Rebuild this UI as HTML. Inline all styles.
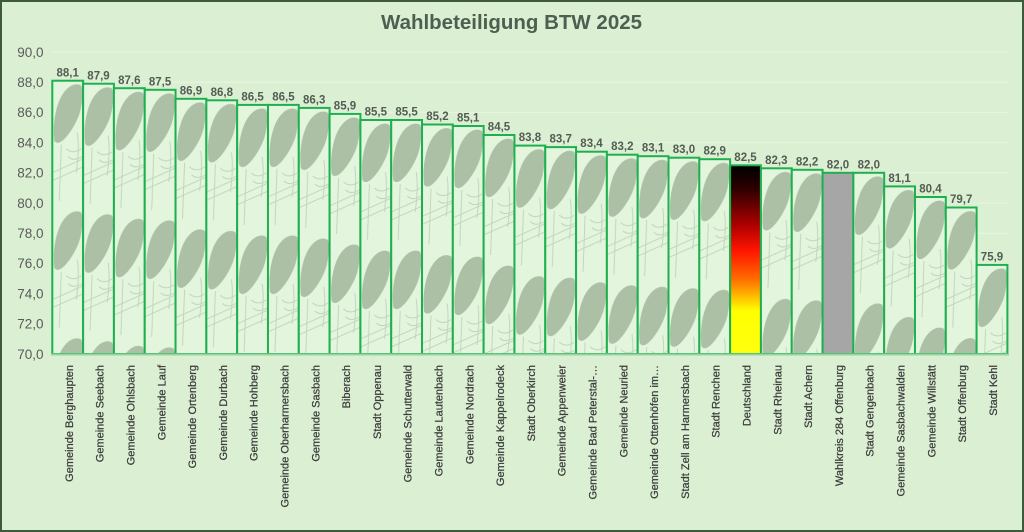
<!DOCTYPE html>
<html><head><meta charset="utf-8"><style>
html,body{margin:0;padding:0;background:#dbf0d3;}
svg{display:block;}
</style></head><body>
<svg xmlns="http://www.w3.org/2000/svg" xmlns:xlink="http://www.w3.org/1999/xlink" width="1024" height="532" viewBox="0 0 1024 532">
<defs>
<g id="tile">
<rect x="0" y="0" width="31" height="127" fill="#e3f5dd"/>
<path d="M2,60 C0,42 4,20 13,10 C18,4 25,2 29,5 C31,9 30,22 28,30 C26,38 22,45 18,51 C13,58 6,66 2,60 Z" fill="#abc0a5"/>
<path d="M0,92 L31,78 M0,100 L31,86 M9,64 L7,120 M25,52 C27,64 26,77 24,92 M14,68 C18,72 24,72 29,68 M16,76 C20,80 25,79 30,76" stroke="#bfd3ba" stroke-width="0.9" fill="none"/>
</g>
<linearGradient id="de" x1="0" y1="0" x2="0" y2="1">
<stop offset="0" stop-color="#000000"/>
<stop offset="0.12" stop-color="#2a0000"/>
<stop offset="0.32" stop-color="#b00000"/>
<stop offset="0.45" stop-color="#ff1400"/>
<stop offset="0.6" stop-color="#ff6a00"/>
<stop offset="0.7" stop-color="#ffc000"/>
<stop offset="0.77" stop-color="#ffff00"/>
<stop offset="1" stop-color="#ffff10"/>
</linearGradient>
<pattern id="p0" patternUnits="userSpaceOnUse" x="52.3" y="80.7" width="30.81" height="127"><use href="#tile"/></pattern>
<pattern id="p1" patternUnits="userSpaceOnUse" x="83.11" y="83.7" width="30.81" height="127"><use href="#tile"/></pattern>
<pattern id="p2" patternUnits="userSpaceOnUse" x="113.92" y="88.2" width="30.81" height="127"><use href="#tile"/></pattern>
<pattern id="p3" patternUnits="userSpaceOnUse" x="144.73" y="89.8" width="30.81" height="127"><use href="#tile"/></pattern>
<pattern id="p4" patternUnits="userSpaceOnUse" x="175.54" y="98.8" width="30.81" height="127"><use href="#tile"/></pattern>
<pattern id="p5" patternUnits="userSpaceOnUse" x="206.35" y="100.3" width="30.81" height="127"><use href="#tile"/></pattern>
<pattern id="p6" patternUnits="userSpaceOnUse" x="237.16" y="104.9" width="30.81" height="127"><use href="#tile"/></pattern>
<pattern id="p7" patternUnits="userSpaceOnUse" x="267.97" y="104.9" width="30.81" height="127"><use href="#tile"/></pattern>
<pattern id="p8" patternUnits="userSpaceOnUse" x="298.78" y="107.9" width="30.81" height="127"><use href="#tile"/></pattern>
<pattern id="p9" patternUnits="userSpaceOnUse" x="329.59" y="113.9" width="30.81" height="127"><use href="#tile"/></pattern>
<pattern id="p10" patternUnits="userSpaceOnUse" x="360.4" y="120" width="30.81" height="127"><use href="#tile"/></pattern>
<pattern id="p11" patternUnits="userSpaceOnUse" x="391.21" y="120" width="30.81" height="127"><use href="#tile"/></pattern>
<pattern id="p12" patternUnits="userSpaceOnUse" x="422.02" y="124.5" width="30.81" height="127"><use href="#tile"/></pattern>
<pattern id="p13" patternUnits="userSpaceOnUse" x="452.83" y="126" width="30.81" height="127"><use href="#tile"/></pattern>
<pattern id="p14" patternUnits="userSpaceOnUse" x="483.64" y="135" width="30.81" height="127"><use href="#tile"/></pattern>
<pattern id="p15" patternUnits="userSpaceOnUse" x="514.45" y="145.6" width="30.81" height="127"><use href="#tile"/></pattern>
<pattern id="p16" patternUnits="userSpaceOnUse" x="545.26" y="147.1" width="30.81" height="127"><use href="#tile"/></pattern>
<pattern id="p17" patternUnits="userSpaceOnUse" x="576.07" y="151.7" width="30.81" height="127"><use href="#tile"/></pattern>
<pattern id="p18" patternUnits="userSpaceOnUse" x="606.88" y="154.7" width="30.81" height="127"><use href="#tile"/></pattern>
<pattern id="p19" patternUnits="userSpaceOnUse" x="637.69" y="156.2" width="30.81" height="127"><use href="#tile"/></pattern>
<pattern id="p20" patternUnits="userSpaceOnUse" x="668.5" y="157.7" width="30.81" height="127"><use href="#tile"/></pattern>
<pattern id="p21" patternUnits="userSpaceOnUse" x="699.31" y="159.2" width="30.81" height="127"><use href="#tile"/></pattern>
<pattern id="p23" patternUnits="userSpaceOnUse" x="760.93" y="168.3" width="30.81" height="127"><use href="#tile"/></pattern>
<pattern id="p24" patternUnits="userSpaceOnUse" x="791.74" y="169.8" width="30.81" height="127"><use href="#tile"/></pattern>
<pattern id="p26" patternUnits="userSpaceOnUse" x="853.36" y="172.8" width="30.81" height="127"><use href="#tile"/></pattern>
<pattern id="p27" patternUnits="userSpaceOnUse" x="884.17" y="186.4" width="30.81" height="127"><use href="#tile"/></pattern>
<pattern id="p28" patternUnits="userSpaceOnUse" x="914.98" y="197" width="30.81" height="127"><use href="#tile"/></pattern>
<pattern id="p29" patternUnits="userSpaceOnUse" x="945.79" y="207.5" width="30.81" height="127"><use href="#tile"/></pattern>
<pattern id="p30" patternUnits="userSpaceOnUse" x="976.6" y="264.9" width="30.81" height="127"><use href="#tile"/></pattern>
</defs>

<rect x="0" y="0" width="1024" height="532" fill="#dbf0d3"/>
<rect x="1" y="1" width="1022" height="530" fill="none" stroke="#3d5a3d" stroke-width="2"/>

<text x="511.5" y="29" text-anchor="middle" font-family="Liberation Sans, sans-serif" font-size="20" font-weight="bold" fill="#4e5e50" textLength="261" lengthAdjust="spacingAndGlyphs">Wahlbeteiligung BTW 2025</text>

<!-- gridlines -->
<g stroke="#e7f5e1" stroke-width="1">
<line x1="52" y1="52" x2="1008" y2="52"/>
<line x1="52" y1="82.2" x2="1008" y2="82.2"/>
<line x1="52" y1="112.4" x2="1008" y2="112.4"/>
<line x1="52" y1="142.6" x2="1008" y2="142.6"/>
<line x1="52" y1="172.8" x2="1008" y2="172.8"/>
<line x1="52" y1="203" x2="1008" y2="203"/>
<line x1="52" y1="233.2" x2="1008" y2="233.2"/>
<line x1="52" y1="263.4" x2="1008" y2="263.4"/>
<line x1="52" y1="293.6" x2="1008" y2="293.6"/>
<line x1="52" y1="323.8" x2="1008" y2="323.8"/>
</g>

<!-- y labels -->
<g font-family="Liberation Sans, sans-serif" font-size="13.5" fill="#5a5a5a" text-anchor="end">
<text x="43.5" y="56.8">90,0</text>
<text x="43.5" y="87">88,0</text>
<text x="43.5" y="117.2">86,0</text>
<text x="43.5" y="147.4">84,0</text>
<text x="43.5" y="177.6">82,0</text>
<text x="43.5" y="207.8">80,0</text>
<text x="43.5" y="238">78,0</text>
<text x="43.5" y="268.2">76,0</text>
<text x="43.5" y="298.4">74,0</text>
<text x="43.5" y="328.6">72,0</text>
<text x="43.5" y="358.8">70,0</text>
</g>

<!-- bars -->
<g stroke="#1eb04f" stroke-width="2">
<rect x="52.3" y="80.7" width="30.81" height="273.3" fill="url(#p0)"/>
<rect x="83.11" y="83.7" width="30.81" height="270.3" fill="url(#p1)"/>
<rect x="113.92" y="88.2" width="30.81" height="265.8" fill="url(#p2)"/>
<rect x="144.73" y="89.8" width="30.81" height="264.2" fill="url(#p3)"/>
<rect x="175.54" y="98.8" width="30.81" height="255.2" fill="url(#p4)"/>
<rect x="206.35" y="100.3" width="30.81" height="253.7" fill="url(#p5)"/>
<rect x="237.16" y="104.9" width="30.81" height="249.1" fill="url(#p6)"/>
<rect x="267.97" y="104.9" width="30.81" height="249.1" fill="url(#p7)"/>
<rect x="298.78" y="107.9" width="30.81" height="246.1" fill="url(#p8)"/>
<rect x="329.59" y="113.9" width="30.81" height="240.1" fill="url(#p9)"/>
<rect x="360.4" y="120" width="30.81" height="234" fill="url(#p10)"/>
<rect x="391.21" y="120" width="30.81" height="234" fill="url(#p11)"/>
<rect x="422.02" y="124.5" width="30.81" height="229.5" fill="url(#p12)"/>
<rect x="452.83" y="126" width="30.81" height="228" fill="url(#p13)"/>
<rect x="483.64" y="135" width="30.81" height="219" fill="url(#p14)"/>
<rect x="514.45" y="145.6" width="30.81" height="208.4" fill="url(#p15)"/>
<rect x="545.26" y="147.1" width="30.81" height="206.9" fill="url(#p16)"/>
<rect x="576.07" y="151.7" width="30.81" height="202.3" fill="url(#p17)"/>
<rect x="606.88" y="154.7" width="30.81" height="199.3" fill="url(#p18)"/>
<rect x="637.69" y="156.2" width="30.81" height="197.8" fill="url(#p19)"/>
<rect x="668.5" y="157.7" width="30.81" height="196.3" fill="url(#p20)"/>
<rect x="699.31" y="159.2" width="30.81" height="194.8" fill="url(#p21)"/>
<rect x="730.12" y="165.3" width="30.81" height="188.7" fill="url(#de)"/>
<rect x="760.93" y="168.3" width="30.81" height="185.7" fill="url(#p23)"/>
<rect x="791.74" y="169.8" width="30.81" height="184.2" fill="url(#p24)"/>
<rect x="822.55" y="172.8" width="30.81" height="181.2" fill="#a6a6a6"/>
<rect x="853.36" y="172.8" width="30.81" height="181.2" fill="url(#p26)"/>
<rect x="884.17" y="186.4" width="30.81" height="167.6" fill="url(#p27)"/>
<rect x="914.98" y="197" width="30.81" height="157" fill="url(#p28)"/>
<rect x="945.79" y="207.5" width="30.81" height="146.5" fill="url(#p29)"/>
<rect x="976.6" y="264.9" width="30.81" height="89.1" fill="url(#p30)"/>
</g>

<line x1="51" y1="354.5" x2="1009" y2="354.5" stroke="#95d3a0" stroke-width="2"/>

<!-- value labels -->
<g font-family="Liberation Sans, sans-serif" font-size="11.5" font-weight="bold" fill="#535d53" text-anchor="middle">
<text x="67.7" y="76.3">88,1</text>
<text x="98.5" y="79.3">87,9</text>
<text x="129.3" y="83.8">87,6</text>
<text x="160.1" y="85.3">87,5</text>
<text x="190.9" y="94.3">86,9</text>
<text x="221.8" y="95.8">86,8</text>
<text x="252.6" y="100.4">86,5</text>
<text x="283.4" y="100.4">86,5</text>
<text x="314.2" y="103.4">86,3</text>
<text x="345" y="109.4">85,9</text>
<text x="375.8" y="115.5">85,5</text>
<text x="406.6" y="115.5">85,5</text>
<text x="437.4" y="120">85,2</text>
<text x="468.2" y="121.5">85,1</text>
<text x="499" y="130.5">84,5</text>
<text x="529.9" y="141.1">83,8</text>
<text x="560.7" y="142.6">83,7</text>
<text x="591.5" y="147.2">83,4</text>
<text x="622.3" y="150.2">83,2</text>
<text x="653.1" y="151.7">83,1</text>
<text x="683.9" y="153.2">83,0</text>
<text x="714.7" y="154.7">82,9</text>
<text x="745.5" y="160.8">82,5</text>
<text x="776.3" y="163.8">82,3</text>
<text x="807.1" y="165.3">82,2</text>
<text x="838" y="168.3">82,0</text>
<text x="868.8" y="168.3">82,0</text>
<text x="899.6" y="181.9">81,1</text>
<text x="930.4" y="192.5">80,4</text>
<text x="961.2" y="203">79,7</text>
<text x="992" y="260.4">75,9</text>
</g>

<!-- x labels -->
<g font-family="Liberation Sans, sans-serif" font-size="11" fill="#3c3c3c" stroke="#3c3c3c" stroke-width="0.25" text-anchor="end">
<text transform="translate(69,365) rotate(-90)" dy="0.35em">Gemeinde Berghaupten</text>
<text transform="translate(99.8,365) rotate(-90)" dy="0.35em">Gemeinde Seebach</text>
<text transform="translate(130.6,365) rotate(-90)" dy="0.35em">Gemeinde Ohlsbach</text>
<text transform="translate(161.4,365) rotate(-90)" dy="0.35em">Gemeinde Lauf</text>
<text transform="translate(192.2,365) rotate(-90)" dy="0.35em">Gemeinde Ortenberg</text>
<text transform="translate(223,365) rotate(-90)" dy="0.35em">Gemeinde Durbach</text>
<text transform="translate(253.8,365) rotate(-90)" dy="0.35em">Gemeinde Hohberg</text>
<text transform="translate(284.6,365) rotate(-90)" dy="0.35em">Gemeinde Oberharmersbach</text>
<text transform="translate(315.4,365) rotate(-90)" dy="0.35em">Gemeinde Sasbach</text>
<text transform="translate(346.2,365) rotate(-90)" dy="0.35em">Biberach</text>
<text transform="translate(377,365) rotate(-90)" dy="0.35em">Stadt Oppenau</text>
<text transform="translate(407.8,365) rotate(-90)" dy="0.35em">Gemeinde Schutterwald</text>
<text transform="translate(438.6,365) rotate(-90)" dy="0.35em">Gemeinde Lautenbach</text>
<text transform="translate(469.4,365) rotate(-90)" dy="0.35em">Gemeinde Nordrach</text>
<text transform="translate(500.2,365) rotate(-90)" dy="0.35em">Gemeinde Kappelrodeck</text>
<text transform="translate(531,365) rotate(-90)" dy="0.35em">Stadt Oberkirch</text>
<text transform="translate(561.8,365) rotate(-90)" dy="0.35em">Gemeinde Appenweier</text>
<text transform="translate(592.6,365) rotate(-90)" dy="0.35em">Gemeinde Bad Peterstal-…</text>
<text transform="translate(623.4,365) rotate(-90)" dy="0.35em">Gemeinde Neuried</text>
<text transform="translate(654.2,365) rotate(-90)" dy="0.35em">Gemeinde Ottenhöfen im…</text>
<text transform="translate(685,365) rotate(-90)" dy="0.35em">Stadt Zell am Harmersbach</text>
<text transform="translate(715.8,365) rotate(-90)" dy="0.35em">Stadt Renchen</text>
<text transform="translate(746.6,365) rotate(-90)" dy="0.35em">Deutschland</text>
<text transform="translate(777.4,365) rotate(-90)" dy="0.35em">Stadt Rheinau</text>
<text transform="translate(808.2,365) rotate(-90)" dy="0.35em">Stadt Achern</text>
<text transform="translate(839,365) rotate(-90)" dy="0.35em">Wahlkreis 284 Offenburg</text>
<text transform="translate(869.8,365) rotate(-90)" dy="0.35em">Stadt Gengenbach</text>
<text transform="translate(900.6,365) rotate(-90)" dy="0.35em">Gemeinde Sasbachwalden</text>
<text transform="translate(931.4,365) rotate(-90)" dy="0.35em">Gemeinde Willstätt</text>
<text transform="translate(962.2,365) rotate(-90)" dy="0.35em">Stadt Offenburg</text>
<text transform="translate(993,365) rotate(-90)" dy="0.35em">Stadt Kehl</text>
</g>
</svg>
</body></html>
